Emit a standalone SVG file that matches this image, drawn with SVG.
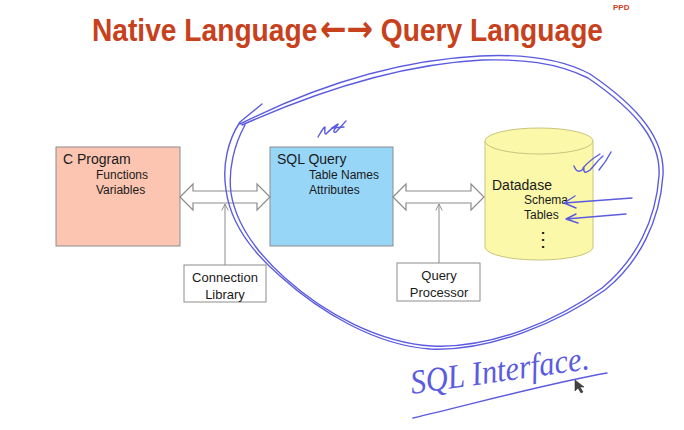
<svg xmlns="http://www.w3.org/2000/svg" width="684" height="430" viewBox="0 0 684 430">
  <defs>
    <style>
      .title { font-family: "Liberation Sans", Arial, sans-serif; font-weight: bold; fill: #c8411d; }
      .arrows { font-family: "DejaVu Sans", sans-serif; font-weight: bold; }
      .lbl { font-family: "Liberation Sans", Arial, sans-serif; fill: #1a1a1a; }
      .head { font-size: 14px; }
      .sub { font-size: 12px; }
      .box { stroke: #8c8c8c; stroke-width: 1; }
      .plain { fill: #ffffff; stroke: #8c8c8c; stroke-width: 1; }
      .dbl { fill: #ffffff; stroke: #8c8c8c; stroke-width: 1.2; stroke-linejoin: miter; }
      .feed { stroke: #8c8c8c; stroke-width: 1; fill: none; }
      .ink { fill: none; stroke: #5b5be0; stroke-width: 1.4; stroke-linecap: round; stroke-linejoin: round; }
      .hand { font-family: "Liberation Serif", "DejaVu Serif", serif; font-style: italic; fill: #5b5be0; }
    </style>
    <marker id="openHead" viewBox="0 0 10 10" refX="9" refY="5" markerWidth="8" markerHeight="8" orient="auto" markerUnits="userSpaceOnUse">
      <path d="M1,1 L9,5 L1,9" fill="none" stroke="#8c8c8c" stroke-width="1.2"/>
    </marker>
  </defs>

  <rect width="684" height="430" fill="#ffffff"/>

  <!-- heading -->
  <g id="title">
    <text class="title" x="92" y="41" font-size="32" textLength="511" lengthAdjust="spacingAndGlyphs">Native Language<tspan class="arrows" font-size="36" dx="3">←→</tspan> Query Language</text>
    <text class="title" x="613" y="10" font-size="8">PPD</text>
  </g>

  <!-- nodes -->
  <g id="c-program">
    <rect class="box" x="56" y="147" width="124" height="99" fill="#fbc5b1"/>
    <text class="lbl head" x="63" y="164">C Program</text>
    <text class="lbl sub" x="96" y="179">Functions</text>
    <text class="lbl sub" x="96" y="194">Variables</text>
  </g>

  <g id="sql-query">
    <rect class="box" x="270" y="147" width="123" height="99" fill="#98d6f8"/>
    <text class="lbl head" x="277" y="164">SQL Query</text>
    <text class="lbl sub" x="309" y="179">Table Names</text>
    <text class="lbl sub" x="309" y="194">Attributes</text>
  </g>

  <g id="database">
    <path d="M485,141 L485,247 A54,13 0 0 0 593,247 L593,141" fill="#fbf8aa" stroke="#c9c57c" stroke-width="1"/>
    <ellipse cx="539" cy="141" rx="54" ry="13" fill="#fbf8aa" stroke="#c9c57c" stroke-width="1"/>
    <text class="lbl head" x="492" y="190">Datadase</text>
    <text class="lbl sub" x="524" y="204">Schema</text>
    <text class="lbl sub" x="524" y="219">Tables</text>
    <text class="lbl" x="543" y="246" font-size="20" font-family="DejaVu Sans, sans-serif" text-anchor="middle">⋮</text>
  </g>

  <g id="connection-library">
    <rect class="plain" x="184" y="265" width="82" height="37"/>
    <text class="lbl" x="225" y="282" font-size="13" text-anchor="middle">Connection</text>
    <text class="lbl" x="225" y="299" font-size="13" text-anchor="middle">Library</text>
  </g>

  <g id="query-processor">
    <rect class="plain" x="397" y="263" width="83" height="38"/>
    <text class="lbl" x="439" y="280" font-size="13" text-anchor="middle">Query</text>
    <text class="lbl" x="439" y="297" font-size="13" text-anchor="middle">Processor</text>
  </g>

  <!-- connectors -->
  <g id="connectors">
    <path class="dbl" d="M180,197 L193,184 L193,191 L257,191 L257,184 L270,197 L257,210 L257,203 L193,203 L193,210 Z"/>
    <path class="dbl" d="M393,197 L406,184 L406,191 L471,191 L471,184 L484,197 L471,210 L471,203 L406,203 L406,210 Z"/>
    <line class="feed" x1="225" y1="265" x2="225" y2="204" marker-end="url(#openHead)"/>
    <line class="feed" x1="439" y1="263" x2="439" y2="204" marker-end="url(#openHead)"/>
  </g>

  <!-- pen annotations -->
  <g id="annotations">
    <path class="ink" d="M262,104 L240,122 C228,140 222,165 226,190 C230,220 250,250 280,276 C320,312 375,345 430,349 C490,352 560,322 605,290 C640,262 660,220 663,175 C665,140 640,108 590,74 C560,58 520,54 480,56 C400,60 320,84 240,124"/>
    <path class="ink" d="M245,125 C234,145 228,170 231,193 C236,224 256,252 285,278 C325,314 380,343 432,346 C492,349 558,320 602,288 C636,260 656,220 659,176 C661,142 638,112 588,78 C556,62 520,59 482,60 C405,64 325,88 242,125"/>
    <path class="ink" d="M318,137 C321,132 323,128 325,127 C325,131 324,134 326,134 C330,130 334,126 338,124 C334,130 332,133 336,132 C340,128 343,124 346,121"/>
    <path class="ink" d="M332,128 L344,127"/>
    <path class="ink" d="M574,166 C576,172 580,173 584,168 C583,172 585,174 590,170 C594,166 598,160 603,156 M583,168 C588,162 595,157 600,154 M599,170 C604,164 608,158 611,152"/>
    <path class="ink" d="M632,198 L564,203 M575,196 L564,203 L576,208"/>
    <path class="ink" d="M626,214 L566,219 M576,214 L566,219 L578,223"/>
    <text class="hand" x="412" y="394" font-size="34" textLength="180" lengthAdjust="spacingAndGlyphs" transform="rotate(-8 412 394)">SQL Interface.</text>
    <path class="ink" d="M413,418 C480,402 550,383 607,373"/>
    <path d="M575,380 L575,391 L578,388 L581,393 L583,392 L580,387 L584,387 Z" fill="#444" stroke="#222" stroke-width="0.5"/>
  </g>
</svg>
